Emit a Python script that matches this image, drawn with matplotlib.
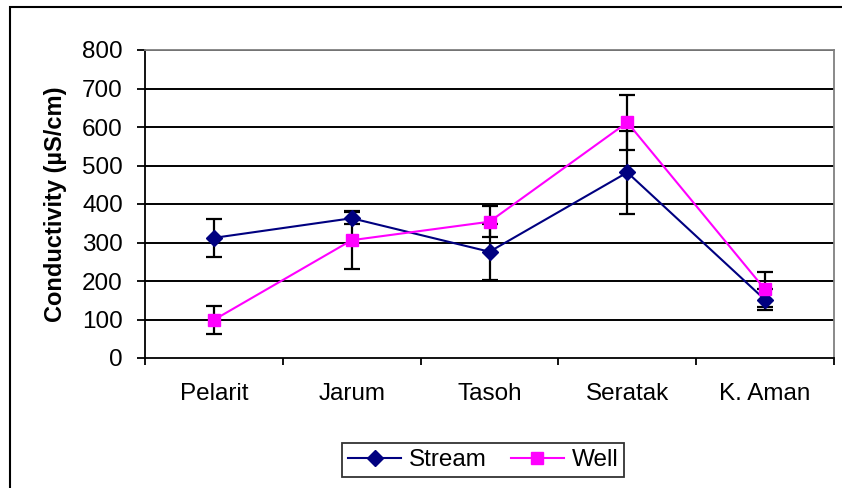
import matplotlib.pyplot as plt
from matplotlib import patches
import numpy as np

sites = ["Pelarit", "Jarum", "Tasoh", "Seratak", "K. Aman"]
stream = [312, 363, 276, 482, 151]
stream_err = [50, 15, 73, 108, 27]
well = [99, 306, 354, 612, 178]
well_err = [36, 76, 40, 72, 46]
yticks = [0, 100, 200, 300, 400, 500, 600, 700, 800]

plt.rcParams['font.family'] = ['Liberation Sans', 'DejaVu Sans']

W, H = 842, 488
fig = plt.figure(figsize=(W / 100, H / 100), dpi=100)
ax = fig.add_axes([145 / W, (H - 358) / H, 689 / W, 308 / H])

# chart frame around everything
fig.patches.append(patches.Rectangle((10 / W, -0.05), 1.2, 1 - 7 / H + 0.05, transform=fig.transFigure,
                                     fill=False, edgecolor="black", linewidth=1.5))

x = np.arange(len(sites))

for yv in yticks[1:]:
  ax.axhline(yv, color="black", linewidth=1.4, zorder=1)

ax.errorbar(x, stream, yerr=stream_err, fmt="none", ecolor="black", elinewidth=1.6, capsize=5.5,
            capthick=1.6, zorder=2)
ax.errorbar(x, well, yerr=well_err, fmt="none", ecolor="black", elinewidth=1.6, capsize=5.5,
            capthick=1.6, zorder=2)
ax.plot(x, stream, color="#000080", linewidth=1.5, marker="D", markersize=8.5, label="Stream", zorder=3)
ax.plot(x, well, color="#FF00FF", linewidth=1.5, marker="s", markersize=8.5, label="Well", zorder=3)

ax.set_xlim(-0.5, len(sites) - 0.5)
ax.set_ylim(0, 800)
ax.set_yticks(yticks)
ax.tick_params(axis="y", direction="out", length=6, width=1.3, pad=10, labelsize=17.5)

# tick marks between categories, labels at the centres
ax.set_xticks(np.arange(-0.5, len(sites)), labels=[])
ax.set_xticks(x, labels=sites, minor=True)
ax.tick_params(axis="x", which="major", direction="out", length=5, width=1.3)
ax.tick_params(axis="x", which="minor", length=0, pad=18, labelsize=17.5)

for side in ["top", "right"]:
  ax.spines[side].set_color("#808080")
  ax.spines[side].set_linewidth(1.3)
for side in ["left", "bottom"]:
  ax.spines[side].set_linewidth(1.3)

ax.set_ylabel("Conductivity (µS/cm)", fontsize=17, fontweight="bold", labelpad=11)

leg = ax.legend(loc="center", bbox_to_anchor=(483 / W, (H - 460) / H), bbox_transform=fig.transFigure,
                ncol=2, fontsize=17.5, frameon=True, fancybox=False, handlelength=2.2, handletextpad=0.3,
                columnspacing=1.0, borderpad=0.25)
leg.get_frame().set_edgecolor("black")
leg.get_frame().set_linewidth(1.3)

fig.savefig("out.png", dpi=100)
